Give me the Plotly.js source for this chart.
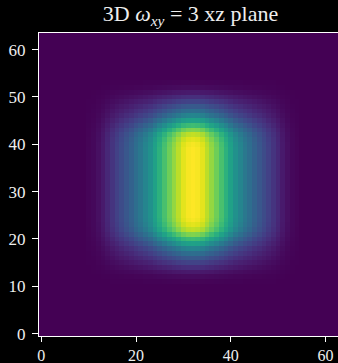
<!DOCTYPE html>
<html>
<head>
<meta charset="utf-8">
<script src="https://cdn.plot.ly/plotly-3.0.1.min.js"></script>
<style>
  html, body { margin: 0; padding: 0; background: #000; overflow: hidden; }
  #plot { width: 344px; height: 363px; }
</style>
</head>
<body>
<div id="plot"></div>
<script>
// Field profile across x (columns 0..63)
const colProfile = [
  0, 0, 0, 0, 0, 0, 0, 0, 0, 0,
  0.01, 0.02, 0.04, 0.07, 0.11, 0.15, 0.19, 0.23, 0.27, 0.31,
  0.36, 0.40, 0.45, 0.50, 0.57, 0.64, 0.71, 0.78, 0.84, 0.90,
  0.96, 0.99, 1.00, 0.99, 0.96, 0.90, 0.84, 0.78, 0.71, 0.64,
  0.57, 0.50, 0.45, 0.40, 0.36, 0.31, 0.27, 0.23, 0.19, 0.15,
  0.11, 0.07, 0.04, 0.02, 0.01,
  0, 0, 0, 0, 0, 0, 0, 0, 0
];

// Field profile across z (rows 0..63)
const rowProfile = [
  0, 0, 0, 0, 0, 0, 0, 0, 0, 0, 0,
  0.01, 0.03, 0.07, 0.13, 0.20, 0.28, 0.36, 0.45, 0.57, 0.69,
  0.81, 0.91, 0.96, 0.99,
  1, 1, 1, 1, 1, 1, 1, 1, 1, 1, 1, 1, 1, 1, 1,
  0.99, 0.96, 0.91, 0.81, 0.69, 0.57, 0.45, 0.36, 0.28, 0.20,
  0.13, 0.07, 0.03, 0.01,
  0, 0, 0, 0, 0, 0, 0, 0, 0, 0
];

const xTicks = [0, 20, 40, 60];
const yTicks = [0, 10, 20, 30, 40, 50, 60];

// xz-plane slice: z[row][col]
const z = rowProfile.map(r => colProfile.map(c => r * c));

const trace = {
  type: 'heatmap',
  z: z,
  colorscale: 'Viridis',
  zmin: 0,
  zmax: 1,
  showscale: false,
  hoverinfo: 'skip'
};

const serif = 'Liberation Serif, Times New Roman, serif';
const axisBase = {
  showline: true,
  linecolor: '#ffffff',
  linewidth: 1,
  mirror: true,
  ticks: 'outside',
  ticklen: 6,
  tickwidth: 1,
  tickcolor: '#ffffff',
  showgrid: false,
  zeroline: false,
  tickfont: { family: serif, size: 17, color: '#eeeeee' },
  range: [-0.5, 63.5],
  fixedrange: true
};

const layout = {
  width: 344,
  height: 363,
  margin: { l: 39, r: 2, t: 33, b: 27 },
  paper_bgcolor: '#000000',
  plot_bgcolor: '#000000',
  title: {
    text: '3D <i>ω</i><sub><i>xy</i></sub> = 3 xz plane',
    font: { family: serif, size: 22, color: '#eeeeee' },
    x: 0.5,
    xref: 'paper',
    y: 0.962,
    yref: 'container',
    yanchor: 'middle'
  },
  xaxis: Object.assign({}, axisBase, {
    tickvals: xTicks,
    ticktext: xTicks.map(String),
    ticklen: 5,
    ticklabelstandoff: 0,
    tickfont: { family: serif, size: 16, color: '#eeeeee' }
  }),
  yaxis: Object.assign({}, axisBase, {
    tickvals: yTicks,
    ticktext: yTicks.map(String),
    ticklabelstandoff: 3
  })
};

Plotly.newPlot('plot', [trace], layout, { displayModeBar: false, staticPlot: true });
</script>
</body>
</html>
